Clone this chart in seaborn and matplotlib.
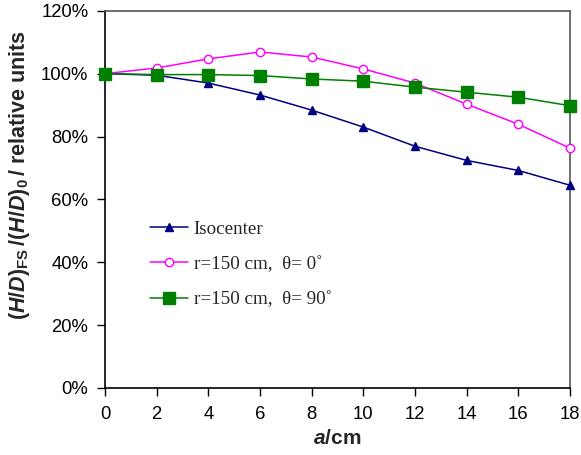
import matplotlib
matplotlib.use("Agg")
import matplotlib.pyplot as plt
import seaborn as sns
import pandas as pd
from matplotlib.ticker import PercentFormatter

a_cm = [0, 2, 4, 6, 8, 10, 12, 14, 16, 18]
isocenter = [100, 99.5, 97.0, 93.2, 88.4, 83.0, 76.9, 72.4, 69.2, 64.5]
r150_theta0 = [100, 101.8, 104.7, 106.9, 105.3, 101.5, 97.0, 90.3, 83.9, 76.3]
r150_theta90 = [100, 99.7, 99.7, 99.4, 98.3, 97.6, 95.7, 94.1, 92.5, 89.8]
series_names = ["Isocenter", "r=150 cm,  θ= 0˚", "r=150 cm,  θ= 90˚"]

sns.set_theme(style="white")
plt.rcParams['font.family'] = ['Liberation Sans', 'DejaVu Sans']
plt.rcParams['mathtext.fontset'] = 'custom'
plt.rcParams['mathtext.it'] = 'Liberation Sans:italic:bold'
plt.rcParams['mathtext.rm'] = 'Liberation Sans:bold'
plt.rcParams['mathtext.bf'] = 'Liberation Sans:bold'

df = pd.DataFrame({
    "a": a_cm * 3,
    "value": isocenter + r150_theta0 + r150_theta90,
    "series": [series_names[0]] * 10 + [series_names[1]] * 10 + [series_names[2]] * 10,
})

fig = plt.figure(figsize=(5.81, 4.55), dpi=100)
ax = fig.add_axes([0.1807, 0.1473, 0.8003, 0.829])

styles = {
    series_names[0]: dict(color="#000080", marker="^", ms=6, mfc="#000080", mec="#000080"),
    series_names[1]: dict(color="#FF00FF", marker="o", ms=6, mfc="white", mec="#FF00FF"),
    series_names[2]: dict(color="#008000", marker="s", ms=9, mfc="#008000", mec="#008000"),
}
for name in series_names:
    sub = df[df["series"] == name]
    st = styles[name]
    sns.lineplot(data=sub, x="a", y="value", ax=ax, color=st["color"], lw=1.1,
                 marker=st["marker"], markersize=st["ms"], markerfacecolor=st["mfc"],
                 markeredgecolor=st["mec"], markeredgewidth=1.0, label=name,
                 clip_on=False, zorder=3)

ax.set_xlim(0, 18)
ax.set_ylim(0, 120)
ax.set_xticks(a_cm)
ax.set_yticks([0, 20, 40, 60, 80, 100, 120])
ax.yaxis.set_major_formatter(PercentFormatter(decimals=0))
ax.tick_params(axis="both", which="major", direction="out", length=6, width=1,
               labelsize=13.3, color="black", labelcolor="black",
               left=True, bottom=True)
ax.tick_params(axis="y", pad=6)
ax.tick_params(axis="x", pad=7)
for s in ["left", "bottom"]:
    ax.spines[s].set_color("black")
    ax.spines[s].set_linewidth(1.2)
for s in ["top", "right"]:
    ax.spines[s].set_color("#555555")
    ax.spines[s].set_linewidth(1.2)

ax.set_xlabel(r"$a$/cm", fontsize=15, fontweight="bold", labelpad=4)
ax.set_ylabel(r"$(H/D)_{\mathrm{FS}}\,/(H/D)_{0}\,$/ relative units", fontsize=15.5,
              fontweight="bold")
ax.yaxis.set_label_coords(-0.158, 0.565)

leg = ax.legend(loc="upper left", bbox_to_anchor=(0.06, 0.49), frameon=False,
                prop={"family": "Liberation Serif", "size": 13.7}, handlelength=2.0,
                labelspacing=0.95, handletextpad=0.3)

fig.savefig("out.png", dpi=100)
